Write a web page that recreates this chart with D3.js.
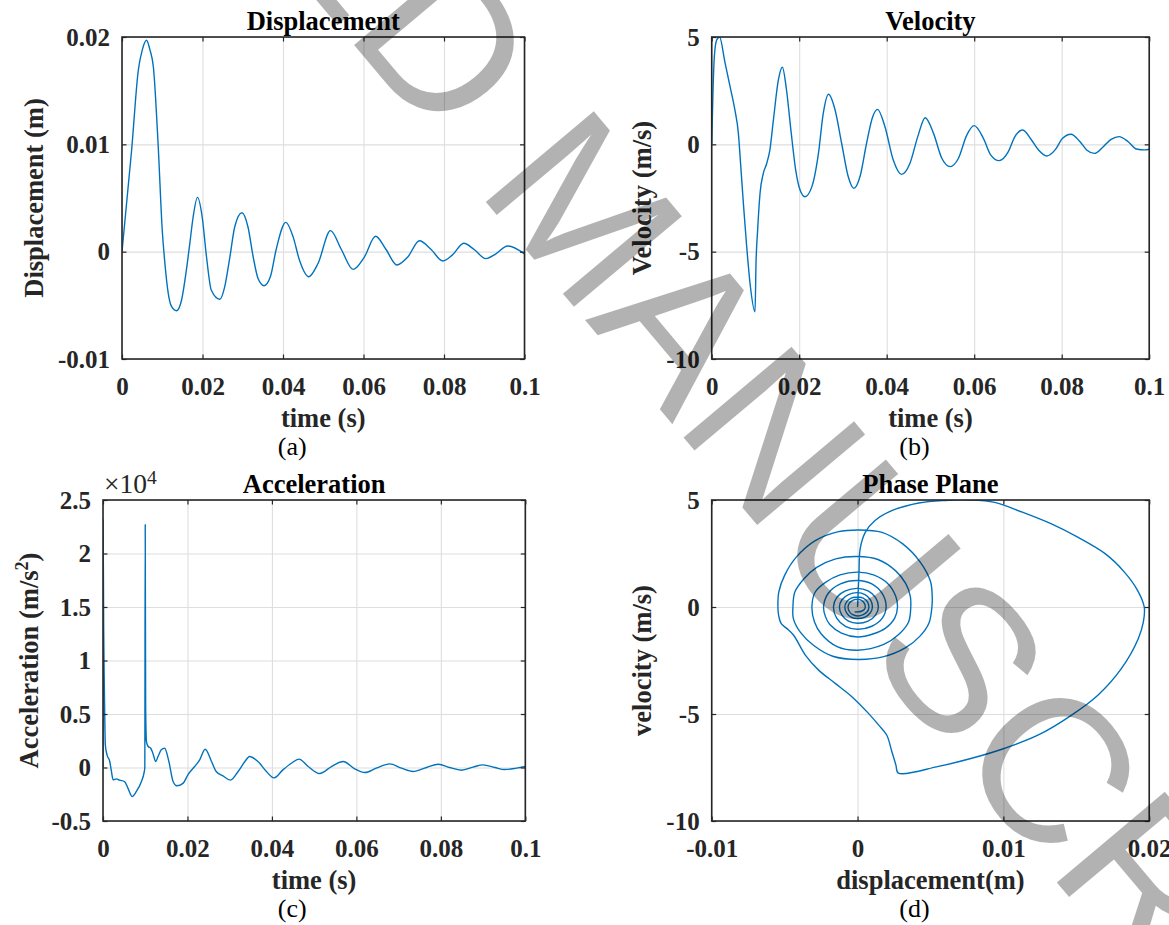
<!DOCTYPE html>
<html>
<head>
<meta charset="utf-8">
<script src="https://cdn.jsdelivr.net/npm/d3@7/dist/d3.min.js"></script>
<style>
body { margin: 0; background: #fff; }
svg { display: block; }
text.serif { font-family: "Liberation Serif", "Times New Roman", Times, "DejaVu Serif", serif; }
text.stamp { font-family: "Liberation Sans", Arial, sans-serif; }
</style>
</head>
<body>
<svg id="fig" width="1169" height="925"></svg>
<script>
// tick values and labels
const timeTicks = [0, 0.02, 0.04, 0.06, 0.08, 0.1];
const timeTickLabels = ["0", "0.02", "0.04", "0.06", "0.08", "0.1"];
const dispTicks = [-0.01, 0, 0.01, 0.02];
const dispTickLabels = ["-0.01", "0", "0.01", "0.02"];
const velTicks = [-10, -5, 0, 5];
const velTickLabels = ["-10", "-5", "0", "5"];
const accTicks = [-5000, 0, 5000, 10000, 15000, 20000, 25000];
const accTickLabels = ["-0.5", "0", "0.5", "1", "1.5", "2", "2.5"];

// (a) displacement [time s, displacement m]
const displacement = [
  [0, 0], [0.0024, 0.0095], [0.00405, 0.0169], [0.00504, 0.0188], [0.0061, 0.0197],
  [0.00694, 0.0188], [0.0078, 0.0172], [0.0090, 0.0098], [0.0100, 0.0020], [0.01066, -0.0011],
  [0.0115, -0.0039], [0.0123, -0.0051], [0.01355, -0.0055], [0.0148, -0.0045], [0.0160, -0.0017],
  [0.01686, 0.0008], [0.0177, 0.0033], [0.01876, 0.00506], [0.0199, 0.0033], [0.0210, -0.0005],
  [0.0222, -0.0036], [0.0243, -0.00444], [0.0255, -0.0033], [0.0268, -0.0005], [0.0280, 0.0023],
  [0.0298, 0.00363], [0.0313, 0.0023], [0.0326, -0.0005], [0.0338, -0.0025], [0.0353, -0.00317],
  [0.0369, -0.0023], [0.0383, 0.0002], [0.0407, 0.00273], [0.0425, 0.0014], [0.0441, -0.0008],
  [0.0464, -0.00233], [0.0487, -0.0011], [0.0518, 0.00196], [0.0545, 0.0002], [0.0574, -0.00165],
  [0.0602, -0.0005], [0.0630, 0.00143], [0.0656, 0.0002], [0.0683, -0.00124], [0.0710, -0.0005],
  [0.0739, 0.00102], [0.0768, 0.0002], [0.0797, -0.00087], [0.0821, -0.0003], [0.0849, 0.00078],
  [0.0875, 0.0002], [0.0904, -0.00065], [0.0929, -0.0002], [0.0958, 0.00053], [0.1, -0.0002]
];

// (b) velocity [time s, velocity m/s]
const velocity = [
  [0, 0], [0.0003, 2.5], [0.0006, 4.08], [0.00114, 4.86], [0.0018, 5.0], [0.003, 3.85],
  [0.0042, 2.69], [0.0053, 1.6], [0.0061, 0.51], [0.0066, -0.89], [0.00724, -2.75], [0.0080, -4.77],
  [0.00876, -6.47], [0.0099, -7.8], [0.01013, -5.54], [0.0105, -3.99], [0.01105, -2.28], [0.0118, -1.35],
  [0.01257, -0.89], [0.0133, -0.26], [0.0141, 1.13], [0.01524, 3.0], [0.01615, 3.59], [0.0171, 2.53],
  [0.0181, 0.67], [0.0192, -1.2], [0.0202, -2.13], [0.0213, -2.44], [0.0229, -1.97], [0.0244, -0.42],
  [0.0255, 1.44], [0.0267, 2.33], [0.0282, 1.6], [0.0297, 0.05], [0.0312, -1.5], [0.0325, -2.05],
  [0.0339, -1.5], [0.0354, 0.05], [0.0368, 1.29], [0.0379, 1.63], [0.0396, 0.82], [0.0415, -0.73],
  [0.0434, -1.40], [0.0453, -0.89], [0.0471, 0.36], [0.0488, 1.24], [0.0507, 0.51], [0.0526, -0.65],
  [0.0545, -1.04], [0.0564, -0.65], [0.0583, 0.43], [0.0600, 0.87], [0.0621, 0.28], [0.0638, -0.5],
  [0.0657, -0.76], [0.0678, -0.34], [0.0693, 0.36], [0.0711, 0.67], [0.0731, 0.2], [0.0747, -0.26],
  [0.0766, -0.54], [0.0785, -0.26], [0.0802, 0.28], [0.0821, 0.47], [0.0842, 0.12], [0.0857, -0.26],
  [0.0875, -0.42], [0.0895, -0.11], [0.0913, 0.23], [0.0931, 0.36], [0.0952, 0.12], [0.0971, -0.22],
  [0.0990, -0.26], [0.1, -0.23]
];

// (c) acceleration [time s, acceleration m/s^2]
const acceleration = [
  [0, 0], [0.00002, 23130], [0.00016, 13000], [0.0003, 8000], [0.0004, 5200], [0.00055, 2100],
  [0.00095, 1180], [0.0016, 560], [0.002, -370], [0.0024, -1150], [0.0032, -1060], [0.0039, -1180],
  [0.0051, -1310], [0.0059, -1930], [0.0069, -2710], [0.0079, -2240], [0.0091, -1310], [0.0097, -530],
  [0.0099, 0], [0.0100, 22700], [0.0101, 5500], [0.0103, 2400], [0.0107, 1960], [0.0113, 1800],
  [0.0118, 1340], [0.0125, 560], [0.0130, 1000], [0.0138, 1650], [0.0146, 1800], [0.0156, 560],
  [0.0166, -1310], [0.0175, -1710], [0.0190, -1460], [0.0201, -680], [0.0217, 90], [0.0229, 720],
  [0.0242, 1710], [0.0257, 560], [0.0268, -370], [0.0284, -780], [0.0302, -1180], [0.0320, -370],
  [0.0336, 560], [0.0347, 1030], [0.0367, 560], [0.0387, -370], [0.0405, -970], [0.0426, -220],
  [0.0446, 400], [0.0464, 780], [0.0486, 90], [0.0513, -560], [0.0541, 90], [0.0569, 560],
  [0.0596, -120], [0.0620, -470], [0.0647, -60], [0.0679, 340], [0.0707, -60], [0.0734, -370],
  [0.0766, 0], [0.0794, 310], [0.0821, 0], [0.0849, -250], [0.0876, 30], [0.0900, 250],
  [0.0928, 0], [0.0951, -190], [0.0979, -60], [0.1, 90]
];

// (d) phase plane [displacement m, velocity m/s]
const phase = [
  [0, 0], [0.00005, 0.8], [0.0001, 1.6], [0.00018, 2.72], [0.00053, 3.49], [0.0012, 4.04],
  [0.00235, 4.5], [0.0042, 4.86], [0.006, 4.98], [0.0076, 5.0], [0.0094, 4.89], [0.0113, 4.43],
  [0.0133, 3.88], [0.0151, 3.26], [0.017, 2.48], [0.0183, 1.63], [0.0192, 0.78], [0.01966, 0],
  [0.0196, -0.7], [0.01925, -1.48], [0.0181, -2.87], [0.0165, -4.11], [0.01468, -5.05], [0.0124, -5.98],
  [0.0101, -6.6], [0.00783, -7.07], [0.00555, -7.45], [0.0028, -7.76],
  [0.00263, -7.38], [0.00235, -6.75], [0.002, -5.98], [0.00144, -5.51], [0.00075, -4.97], [-0.00039, -4.19],
  [-0.00153, -3.57], [-0.00267, -2.95], [-0.00358, -2.25], [-0.00438, -1.32], [-0.00484, -1.01],
  [-0.00523, -0.78], [-0.00541, -0.39], [-0.00546, 0],
  [-0.0054, 0.7], [-0.005, 1.48], [-0.0042, 2.33], [-0.0029, 3.1], [-0.0013, 3.52], [0.00007, 3.6],
  [0.00167, 3.49], [0.0031, 2.95], [0.0043, 2.1], [0.005, 1.2], [0.00512, 0.5], [0.0051, 0],
  [0.0049, -0.75], [0.0043, -1.35], [0.0033, -1.9], [0.0018, -2.32], [0.00007, -2.45], [-0.0017, -2.3],
  [-0.003, -1.8], [-0.0039, -1.2], [-0.0044, -0.54], [-0.00443, 0],
  [-0.0043, 0.7], [-0.0037, 1.3], [-0.0028, 1.85], [-0.0015, 2.25], [0, 2.36], [0.0014, 2.22],
  [0.0026, 1.7], [0.0033, 1.1], [0.00362, 0.5], [0.00365, 0],
  [0.0035, -0.7], [0.0028, -1.3], [0.0018, -1.75], [0, -2.02], [-0.0014, -1.85], [-0.0025, -1.25],
  [-0.00295, -0.7], [-0.00313, 0],
  [-0.0029, 0.7], [-0.0022, 1.15], [-0.0012, 1.5], [0, 1.63], [0.0011, 1.5], [0.0021, 1.08],
  [0.00262, 0.5], [0.00274, 0],
  [0.00255, -0.52], [0.0019, -1.0], [0.0011, -1.25], [0, -1.40], [-0.0011, -1.22], [-0.0019, -0.82],
  [-0.0022, -0.45], [-0.00233, 0],
  [-0.00203, 0.62], [-0.00117, 1.08], [0, 1.24], [0.00098, 1.08], [0.0017, 0.62], [0.00196, 0],
  [0.0017, -0.52], [0.00098, -0.9], [0, -1.04], [-0.00083, -0.9], [-0.00143, -0.52], [-0.00165, 0],
  [-0.00143, 0.44], [-0.00083, 0.75], [0, 0.87], [0.00072, 0.75], [0.00124, 0.44], [0.00143, 0],
  [0.00124, -0.38], [0.00072, -0.66], [0, -0.76], [-0.00062, -0.66], [-0.00107, -0.38], [-0.00124, 0],
  [-0.00107, 0.34], [-0.00062, 0.58], [0, 0.67], [0.00051, 0.58], [0.00088, 0.34], [0.00102, 0],
  [0.00088, -0.27], [0.00051, -0.47], [0, -0.54], [-0.00044, -0.47], [-0.00075, -0.27], [-0.00087, 0],
  [-0.00075, 0.24], [-0.00044, 0.41], [0, 0.47], [0.00039, 0.41], [0.00068, 0.24], [0.00078, 0],
  [0.00068, -0.21], [0.00039, -0.36], [0, -0.42], [-0.00033, -0.36], [-0.00056, -0.21], [-0.00065, 0],
  [-0.00056, 0.18], [-0.00033, 0.31], [0, 0.36], [0.00027, 0.31], [0.00046, 0.18], [0.00053, 0],
  [0.00046, -0.12], [0.00027, -0.2], [0, -0.23], [-0.0002, -0.23]
];

//styles
var lineColor = "#0072BD";
var axisColor = "#262626";
var gridColor = "#dedede";
var tickFont = 25;
var labelFont = 26.5;

var svg = d3.select("#fig");
svg.append("rect").attr("width", 1169).attr("height", 925).attr("fill", "#fff");

var panels = [
  { id: "a", left: 122, right: 524.5, top: 37, bottom: 359,
    xDomain: [0, 0.1], yDomain: [-0.01, 0.02],
    xTicks: timeTicks, xLabels: timeTickLabels, yTicks: dispTicks, yLabels: dispTickLabels,
    title: "Displacement", xTitle: "time (s)", yTitle: ["Displacement (m)"], yTitleX: 43,
    caption: "(a)", captionDx: -31, data: displacement, curve: d3.curveMonotoneX },
  { id: "b", left: 711.7, right: 1149.2, top: 37, bottom: 359,
    xDomain: [0, 0.1], yDomain: [-10, 5],
    xTicks: timeTicks, xLabels: timeTickLabels, yTicks: velTicks, yLabels: velTickLabels,
    title: "Velocity", xTitle: "time (s)", yTitle: ["Velocity (m/s)"], yTitleX: 651,
    caption: "(b)", captionDx: -16, data: velocity, curve: d3.curveMonotoneX },
  { id: "c", left: 103, right: 525.3, top: 500, bottom: 821,
    xDomain: [0, 0.1], yDomain: [-5000, 25000],
    xTicks: timeTicks, xLabels: timeTickLabels, yTicks: accTicks, yLabels: accTickLabels,
    title: "Acceleration", xTitle: "time (s)", yTitle: ["Acceleration (m/s", "2", ")"], yTitleX: 38,
    caption: "(c)", captionDx: -22, data: acceleration, curve: d3.curveMonotoneX },
  { id: "d", left: 711.7, right: 1149.2, top: 500, bottom: 821,
    xDomain: [-0.01, 0.02], yDomain: [-10, 5],
    xTicks: dispTicks, xLabels: dispTickLabels, yTicks: velTicks, yLabels: velTickLabels,
    title: "Phase Plane", xTitle: "displacement(m)", yTitle: ["velocity (m/s)"], yTitleX: 651,
    caption: "(d)", captionDx: -16, data: phase, curve: d3.curveCatmullRom.alpha(0.5) }
];

panels.forEach(drawPanel);

// the x10^4 exponent label of (c)
var expo = svg.append("text").attr("class", "serif")
  .attr("x", 104).attr("y", 493)
  .attr("font-size", 27.5).attr("fill", axisColor)
  .text("\u00d710");
expo.append("tspan").attr("dy", -9).attr("font-size", 19.5).text("4");

drawWatermark();

function drawPanel(p) {
  var g = svg.append("g").attr("class", "panel-" + p.id);
  var w = p.right - p.left, h = p.bottom - p.top;
  var x = d3.scaleLinear().domain(p.xDomain).range([p.left, p.right]);
  var y = d3.scaleLinear().domain(p.yDomain).range([p.bottom, p.top]);

  //grid lines
  g.append("g").attr("transform", "translate(0," + p.bottom + ")")
    .call(d3.axisBottom(x).tickValues(p.xTicks).tickSize(-h).tickFormat(""))
    .call(s => s.select(".domain").remove())
    .selectAll("line").attr("stroke", gridColor).attr("stroke-width", 1.1);
  g.append("g").attr("transform", "translate(" + p.left + ",0)")
    .call(d3.axisLeft(y).tickValues(p.yTicks).tickSize(-w).tickFormat(""))
    .call(s => s.select(".domain").remove())
    .selectAll("line").attr("stroke", gridColor).attr("stroke-width", 1.1);

  //data line, clipped to the axes box
  g.append("clipPath").attr("id", "clip-" + p.id)
    .append("rect").attr("x", p.left).attr("y", p.top).attr("width", w).attr("height", h);
  var line = d3.line().x(d => x(d[0])).y(d => y(d[1])).curve(p.curve);
  g.append("path")
    .attr("d", line(p.data))
    .attr("clip-path", "url(#clip-" + p.id + ")")
    .attr("fill", "none")
    .attr("stroke", lineColor)
    .attr("stroke-width", 1.4)
    .attr("stroke-linejoin", "round");

  //axes with inward ticks on all four sides
  var tl = 4.5;
  var bottomAxis = g.append("g").attr("transform", "translate(0," + p.bottom + ")")
    .call(d3.axisBottom(x).tickValues(p.xTicks).tickSize(-tl).tickPadding(18.5)
      .tickFormat((d, i) => p.xLabels[i]));
  var leftAxis = g.append("g").attr("transform", "translate(" + p.left + ",0)")
    .call(d3.axisLeft(y).tickValues(p.yTicks).tickSize(-tl).tickPadding(12)
      .tickFormat((d, i) => p.yLabels[i]));
  var topAxis = g.append("g").attr("transform", "translate(0," + p.top + ")")
    .call(d3.axisTop(x).tickValues(p.xTicks).tickSize(-tl).tickFormat(""));
  var rightAxis = g.append("g").attr("transform", "translate(" + p.right + ",0)")
    .call(d3.axisRight(y).tickValues(p.yTicks).tickSize(-tl).tickFormat(""));
  [bottomAxis, leftAxis, topAxis, rightAxis].forEach(function(a) {
    a.select(".domain").remove();
    a.attr("font-family", null);
    a.selectAll("line").attr("stroke", axisColor).attr("stroke-width", 1.2);
    a.selectAll("text").attr("class", "serif")
      .attr("font-weight", "bold")
      .attr("font-size", tickFont).attr("fill", axisColor);
  });

  g.append("rect")
    .attr("x", p.left).attr("y", p.top).attr("width", w).attr("height", h)
    .attr("fill", "none").attr("stroke", axisColor).attr("stroke-width", 1.6);

  var cx = (p.left + p.right) / 2;
  //title
  g.append("text").attr("class", "serif").attr("x", cx).attr("y", p.top - 7.5)
    .attr("text-anchor", "middle").attr("font-weight", "bold")
    .attr("font-size", labelFont).attr("fill", "#000").text(p.title);
  //x label
  g.append("text").attr("class", "serif").attr("x", cx).attr("y", p.bottom + 67.5)
    .attr("text-anchor", "middle").attr("font-weight", "bold")
    .attr("font-size", labelFont).attr("fill", axisColor).text(p.xTitle);
  //y label (rotated)
  var yl = g.append("text").attr("class", "serif")
    .attr("transform", "translate(" + p.yTitleX + "," + (p.top + p.bottom) / 2 + ") rotate(-90)")
    .attr("text-anchor", "middle").attr("font-weight", "bold")
    .attr("font-size", labelFont).attr("fill", axisColor);
  yl.append("tspan").text(p.yTitle[0]);
  if (p.yTitle.length > 1) {
    yl.append("tspan").attr("dy", -10).attr("font-size", 18).text(p.yTitle[1]);
    yl.append("tspan").attr("dy", 10).text(p.yTitle[2]);
  }
  //caption
  g.append("text").attr("class", "serif").attr("x", cx + p.captionDx).attr("y", p.bottom + 96)
    .attr("text-anchor", "middle")
    .attr("font-size", 26).attr("fill", "#000").text(p.caption);
}

//To draw the grey ACCEPTED MANUSCRIPT stamp over the figure
function drawWatermark() {
  var wm = svg.append("g").attr("transform", "translate(475,189) rotate(50)")
    .attr("font-size", 205).attr("fill", "#000").attr("fill-opacity", 0.3);
  wm.append("text").attr("class", "stamp").attr("x", -57).attr("text-anchor", "end").text("ACCEPTED");
  wm.append("text").attr("class", "stamp").attr("x", 0).text("MANUSCRIPT");
}
</script>
</body>
</html>
